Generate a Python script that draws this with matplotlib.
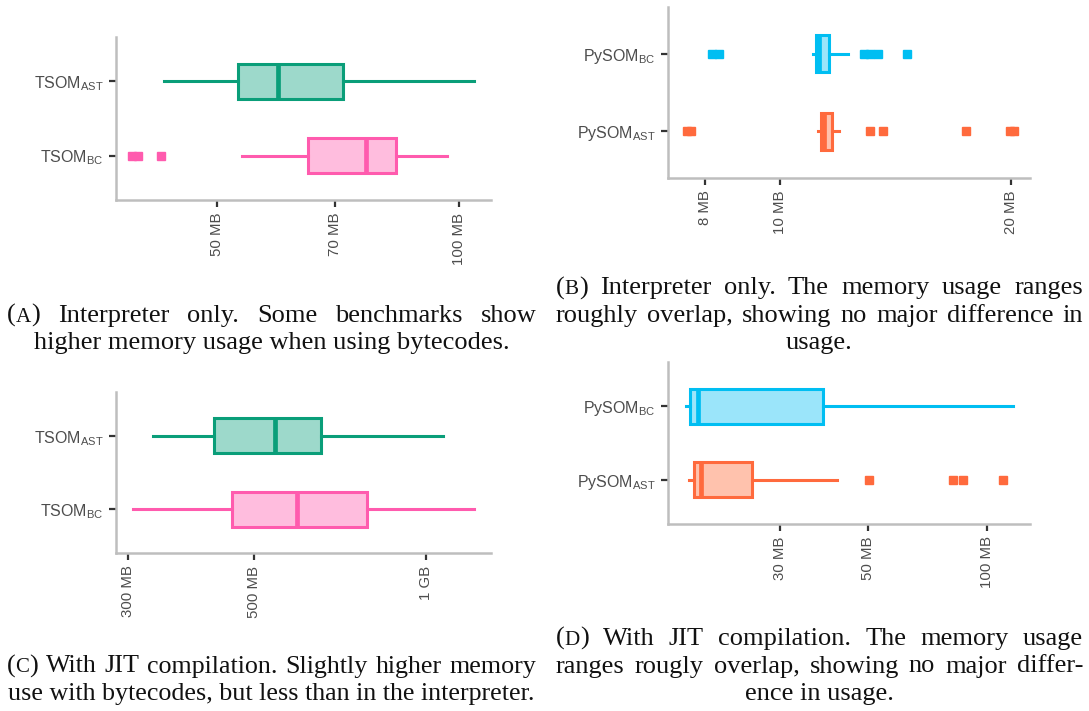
import re

import matplotlib
matplotlib.use("Agg")
import matplotlib.pyplot as plt
from matplotlib.ticker import FixedFormatter, FixedLocator, NullLocator

plt.rcParams["font.family"] = ["Liberation Sans", "DejaVu Sans"]
plt.rcParams["mathtext.default"] = "regular"

W, H = 1089, 711
SERIF = ["Liberation Serif", "DejaVu Serif"]

# five-number summaries: whisker low, q1, median, q3, whisker high (MB)
# (A) TSOM, interpreter only
a_ast_stats = [42.9, 53.0, 59.45, 71.7, 104.3]
a_ast_out = []
a_bc_stats = [53.7, 64.75, 76.65, 83.5, 96.6]
a_bc_out = [39.2, 39.8, 42.5]
a_ticks = [50, 70, 100]
a_ticklabels = ["50 MB", "70 MB", "100 MB"]

# (B) PySOM, interpreter only
b_bc_stats = [11.05, 11.14, 11.25, 11.59, 12.28]
b_bc_out = [8.16, 8.33, 12.87, 13.10, 13.42, 14.64]
b_ast_stats = [11.2, 11.30, 11.42, 11.68, 11.94]
b_ast_out = [7.57, 7.66, 13.10, 13.64, 17.47, 19.95, 20.19]
b_ticks = [8, 10, 20]
b_ticklabels = ["8 MB", "10 MB", "20 MB"]

# (C) TSOM, with JIT
c_ast_stats = [331.8, 425.2, 544.2, 654.9, 1069.6]
c_ast_out = []
c_bc_stats = [306.9, 456.1, 594.7, 786.1, 1213.5]
c_bc_out = []
c_ticks = [300, 500, 1000]
c_ticklabels = ["300 MB", "500 MB", "1 GB"]

# (D) PySOM, with JIT
d_bc_stats = [17.35, 17.82, 18.6, 38.6, 116.3]
d_bc_out = []
d_ast_stats = [17.71, 18.21, 19.03, 25.47, 41.7]
d_ast_out = [50.3, 81.8, 87.0, 109.4]
d_ticks = [30, 50, 100]
d_ticklabels = ["30 MB", "50 MB", "100 MB"]

GREEN = ("#0A9E79", "#9DD9CB")
PINK = ("#FF5BAE", "#FFBDDE")
CYAN = ("#00BEF2", "#9BE5FA")
ORANGE = ("#FF6A3D", "#FFC2AD")

fig = plt.figure(figsize=(W / 100, H / 100), dpi=100)


def panel(left, top, right, bottom, rows, xlim, ticks, ticklabels):
    ax = fig.add_axes([left / W, 1 - bottom / H, (right - left) / W, (bottom - top) / H])
    ax.set_xscale("log")
    for pos, (five, out, (edge, fill)) in enumerate(rows, start=1):
        lo, q1, med, q3, hi = five
        st = dict(whislo=lo, q1=q1, med=med, q3=q3, whishi=hi, fliers=out)
        ax.bxp(
            [st],
            positions=[pos],
            widths=0.48,
            orientation="horizontal",
            patch_artist=True,
            showcaps=False,
            manage_ticks=False,
            boxprops=dict(facecolor=fill, edgecolor=edge, linewidth=2.2),
            whiskerprops=dict(color=edge, linewidth=2.2),
            medianprops=dict(color=edge, linewidth=3.4),
            flierprops=dict(marker="s", markerfacecolor=edge, markeredgecolor=edge,
                            markersize=6, linestyle="none"),
        )
    ax.set_xlim(xlim)
    ax.set_ylim(0.4, 2.6)
    ax.xaxis.set_major_locator(FixedLocator(ticks))
    ax.xaxis.set_major_formatter(FixedFormatter(ticklabels))
    ax.xaxis.set_minor_locator(NullLocator())
    for side in ("top", "right"):
        ax.spines[side].set_visible(False)
    for side in ("left", "bottom"):
        ax.spines[side].set_color("#BEBEBE")
        ax.spines[side].set_linewidth(1.8)
    ax.tick_params(length=5, width=1.6, color="#333333", labelcolor="#4D4D4D", pad=4)
    ax.tick_params(axis="y", labelsize=11.5)
    ax.tick_params(axis="x", labelsize=10.8, labelrotation=90)
    return ax


ax_a = panel(116, 37, 491, 200, [(a_bc_stats, a_bc_out, PINK), (a_ast_stats, a_ast_out, GREEN)],
             (37.4, 109.5), a_ticks, a_ticklabels)
ax_a.set_yticks([1, 2], ["TSOM$_{BC}$", "TSOM$_{AST}$"])

ax_b = panel(668, 7, 1030, 178, [(b_ast_stats, b_ast_out, ORANGE), (b_bc_stats, b_bc_out, CYAN)],
             (7.15, 21.19), b_ticks, b_ticklabels)
ax_b.set_yticks([1, 2], ["PySOM$_{AST}$", "PySOM$_{BC}$"])

ax_c = panel(116, 392, 491, 553, [(c_bc_stats, c_bc_out, PINK), (c_ast_stats, c_ast_out, GREEN)],
             (286.2, 1298), c_ticks, c_ticklabels)
ax_c.set_yticks([1, 2], ["TSOM$_{BC}$", "TSOM$_{AST}$"])

ax_d = panel(668, 362, 1030, 524, [(d_ast_stats, d_ast_out, ORANGE), (d_bc_stats, d_bc_out, CYAN)],
             (15.67, 128), d_ticks, d_ticklabels)
ax_d.set_yticks([1, 2], ["PySOM$_{AST}$", "PySOM$_{BC}$"])

renderer = fig.canvas.get_renderer()


def text_w(s, fs):
    t = fig.text(0, 0, s, fontsize=fs, family=SERIF)
    w = t.get_window_extent(renderer).width
    t.remove()
    return w


def pieces(word, fs):
    # "(A)" gets a small-caps letter
    m = re.fullmatch(r"\(([A-D])\)", word)
    if m:
        return [("(", fs), (m.group(1), fs * 0.8), (")", fs)]
    return [(word, fs)]


def caption(lines, x0, x1, baselines, size):
    width = x1 - x0
    # shrink the caption if a line would not fit at this size
    widest = 0
    for line, _ in lines:
        widest = max(widest, text_w(line, size))
    if widest > width:
        size *= width / widest * 0.995
    for (line, justify), y in zip(lines, baselines):
        yf = 1 - y / H
        if not justify:
            fig.text((x0 + x1) / 2 / W, yf, line, fontsize=size, family=SERIF,
                     ha="center", va="baseline", color="#111111")
            continue
        words = [pieces(w, size) for w in line.split()]
        widths = [sum(text_w(s, f) for s, f in wd) for wd in words]
        gap = (width - sum(widths)) / (len(words) - 1)
        x = x0
        for wd, ww in zip(words, widths):
            px = x
            for s, f in wd:
                fig.text(px / W, yf, s, fontsize=f, family=SERIF,
                         ha="left", va="baseline", color="#111111")
                px += text_w(s, f)
            x += ww + gap


caption([("(A) Interpreter only. Some benchmarks show", True),
         ("higher memory usage when using bytecodes.", False)],
        7, 536.5, [321.7, 349.3], 19)
caption([("(B) Interpreter only. The memory usage ranges", True),
         ("roughly overlap, showing no major difference in", True),
         ("usage.", False)],
        556, 1083, [294.1, 321.7, 349.3], 19)
caption([("(C) With JIT compilation. Slightly higher memory", True),
         ("use with bytecodes, but less than in the interpreter.", False)],
        7, 536.5, [672.5, 700.1], 19)
caption([("(D) With JIT compilation. The memory usage", True),
         ("ranges rougly overlap, showing no major differ-", True),
         ("ence in usage.", False)],
        556, 1083, [644.9, 672.5, 700.1], 19)

fig.savefig("out.png", dpi=100)
